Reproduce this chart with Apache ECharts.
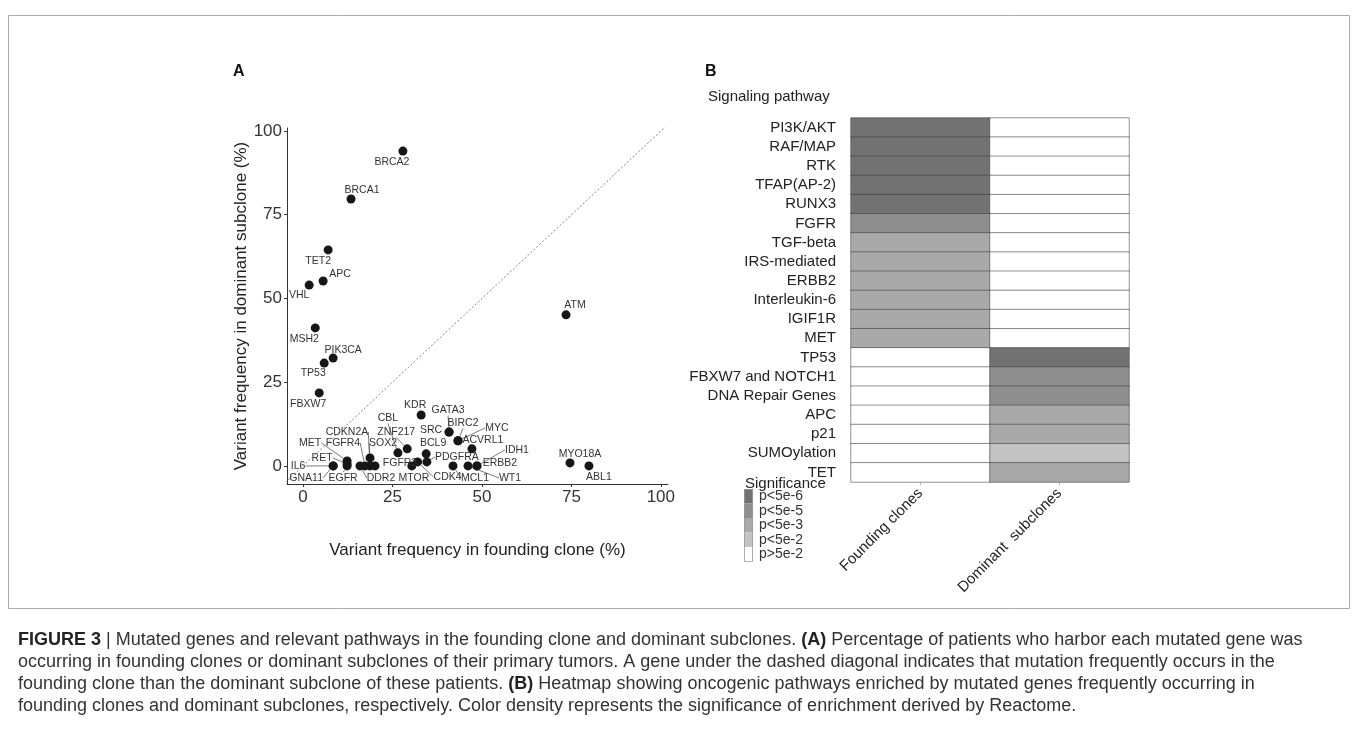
<!DOCTYPE html>
<html>
<head>
<meta charset="utf-8">
<title>Figure 3</title>
<script src="https://cdn.jsdelivr.net/npm/echarts@6/dist/echarts.min.js"></script>
<style>
html,body{margin:0;padding:0;background:#fff;}
#chart{width:1357px;height:744px;}
</style>
</head>
<body>
<div id="chart"></div>
<script>
// panel A: variant frequency (%) per gene
var genes    = ['BRCA2','BRCA1','TET2','APC','VHL','MSH2','PIK3CA','TP53','FBXW7','ATM','MYO18A','ABL1',
                'KDR','GATA3','SRC','BIRC2','MYC','ACVRL1','IDH1','ERBB2','WT1','MCL1','CDK4','MTOR',
                'PDGFRA','BCL9','ZNF217','CBL','CDKN2A','SOX2','FGFR3','DDR2','FGFR4','MET','RET','EGFR','IL6','GNA11'];
var founding = [27.9,13.4,7.0,5.6,1.7,3.4,8.4,5.9,4.5,73.5,74.6,79.9,
                33.0,40.8,40.8,43.3,43.3,47.2,48.6,48.6,46.1,41.9,32.0,30.4,
                34.6,34.4,29.1,26.5,18.7,18.7,20.1,15.9,17.3,12.3,12.3,12.3,8.4,8.4];
var dominant = [94.0,79.7,64.5,55.2,54.0,41.2,32.2,30.7,21.8,45.1,0.9,0,
                15.2,10.1,10.1,7.5,7.5,5.1,0,0,0,0,1.2,0,
                1.2,3.6,5.1,3.9,0,2.4,0,0,0,1.5,0.6,0,0,0];
var tickValues = [0, 25, 50, 75, 100];
var refLine = [-5, 102];   // y = x

// panel B: pathway enrichment level (0 = p>5e-2 ... 4 = p<5e-6)
var pathways = ['PI3K/AKT','RAF/MAP','RTK','TFAP(AP-2)','RUNX3','FGFR','TGF-beta','IRS-mediated','ERBB2',
                'Interleukin-6','IGIF1R','MET','TP53','FBXW7 and NOTCH1','DNA Repair Genes','APC','p21','SUMOylation','TET'];
var groups = ['Founding clones', 'Dominant  subclones'];
var sigFounding = [4,4,4,4,4,3,2,2,2,2,2,2,0,0,0,0,0,0,0];
var sigDominant = [0,0,0,0,0,0,0,0,0,0,0,0,4,3,3,2,2,1,2];
var sigLabels = ['p>5e-2','p<5e-2','p<5e-3','p<5e-5','p<5e-6'];
var sigColors = ['#ffffff','#c3c3c3','#a9a9a9','#8e8e8e','#727272'];

// where each gene label sits (px from its point), ggrepel style
var labelOffset = {
  BRCA2:[-11,11], BRCA1:[11,-9], TET2:[-10,11], APC:[17,-7], VHL:[-10,10], MSH2:[-11,11],
  PIK3CA:[10,-8], TP53:[-11,10], FBXW7:[-11,11], ATM:[9,-10], MYO18A:[10,-9], ABL1:[10,11],
  KDR:[-6,-10], GATA3:[-1,-22], SRC:[-18,-2], BIRC2:[5,-18], MYC:[39,-13], ACVRL1:[11,-9],
  IDH1:[40,-16], ERBB2:[23,-3], WT1:[42,12], MCL1:[22,12], CDK4:[30,15], MTOR:[2,12],
  PDGFRA:[30,-5], BCL9:[7,-11], ZNF217:[-11,-17], CBL:[-10,-35], CDKN2A:[-23,-34], SOX2:[13,-15],
  FGFR3:[25,-3], DDR2:[21,12], FGFR4:[-22,-23], MET:[-37,-18], RET:[-25,-6], EGFR:[-4,12],
  IL6:[-35,0], GNA11:[-27,12]
};
var leaders = ['CBL','ZNF217','CDKN2A','SOX2','FGFR4','MET','RET','EGFR','IL6','GNA11','DDR2',
               'CDK4','MCL1','WT1','IDH1','PDGFRA','BIRC2','MYC','GATA3'];

var FONT = 'Liberation Sans, Arial, sans-serif';

var scatterData = genes.map(function (g, i) {
  return {
    name: g,
    value: [founding[i], dominant[i]],
    labelLine: { show: leaders.indexOf(g) >= 0 }
  };
});

var heatData = [];
pathways.forEach(function (p, i) {
  heatData.push([0, i, sigFounding[i]]);
  heatData.push([1, i, sigDominant[i]]);
});

var caption =
  '{b|FIGURE 3} | Mutated genes and relevant pathways in the founding clone and dominant subclones. {b|(A)} Percentage of patients who harbor each mutated gene was\n' +
  'occurring in founding clones or dominant subclones of their primary tumors. A gene under the dashed diagonal indicates that mutation frequently occurs in the\n' +
  'founding clone than the dominant subclone of these patients. {b|(B)} Heatmap showing oncogenic pathways enriched by mutated genes frequently occurring in\n' +
  'founding clones and dominant subclones, respectively. Color density represents the significance of enrichment derived by Reactome.';

var myChart = echarts.init(document.getElementById('chart'));
var option = {
  backgroundColor: '#fff',
  animation: false,
  textStyle: { fontFamily: FONT },
  grid: [
    { left: 287, right: 689, top: 128, bottom: 260, outerBoundsMode: 'none', containLabel: false },
    { left: 851, right: 228, top: 118, bottom: 262, outerBoundsMode: 'none', containLabel: false }
  ],
  xAxis: [{
    gridIndex: 0, type: 'value', min: -4.5, max: 102,
    name: 'Variant frequency in founding clone (%)', nameLocation: 'middle', nameGap: 58,
    nameTextStyle: { fontSize: 17, color: '#222' },
    axisLine: { show: true, onZero: false, lineStyle: { color: '#333', width: 1 } },
    axisTick: { show: true, length: 3, customValues: tickValues, lineStyle: { color: '#333' } },
    axisLabel: { fontSize: 17, color: '#333', margin: 5, customValues: tickValues },
    splitLine: { show: false }
  }, {
    gridIndex: 1, type: 'category', data: groups,
    axisLine: { show: false },
    axisTick: { show: true, alignWithLabel: true, length: 3, lineStyle: { color: '#bbb' } },
    axisLabel: { fontSize: 15, color: '#222', rotate: 45, margin: 9, interval: 0 },
    splitLine: { show: false }
  }],
  yAxis: [{
    gridIndex: 0, type: 'value', min: -5.4, max: 100.9,
    name: 'Variant frequency in dominant subclone (%)', nameLocation: 'middle', nameGap: 37,
    nameTextStyle: { fontSize: 17, color: '#222' },
    axisLine: { show: true, onZero: false, lineStyle: { color: '#333', width: 1 } },
    axisTick: { show: true, length: 3, customValues: tickValues, lineStyle: { color: '#333' } },
    axisLabel: { fontSize: 17, color: '#333', margin: 5, customValues: tickValues },
    splitLine: { show: false }
  }, {
    gridIndex: 1, type: 'category', data: pathways, inverse: true,
    axisLine: { show: false },
    axisTick: { show: false },
    axisLabel: { fontSize: 15, color: '#222', margin: 15, interval: 0 },
    splitLine: { show: false }
  }],
  visualMap: {
    type: 'piecewise', seriesIndex: 2, dimension: 2,
    orient: 'vertical', left: 744, top: 489, align: 'left',
    itemWidth: 9, itemHeight: 14.5, itemGap: 0, textGap: 6, itemSymbol: 'rect',
    padding: 0, selectedMode: false, hoverLink: false,
    textStyle: { fontSize: 14, color: '#333' },
    pieces: sigLabels.map(function (l, k) { return { value: k, label: l, color: sigColors[k] }; })
  },
  series: [{
    type: 'line', xAxisIndex: 0, yAxisIndex: 0, silent: true, symbol: 'none',
    data: [[refLine[0], refLine[0]], [refLine[1], refLine[1]]],
    lineStyle: { color: '#777', width: 0.9, type: [2, 2] }
  }, {
    type: 'scatter', xAxisIndex: 0, yAxisIndex: 0,
    symbolSize: 9,
    itemStyle: { color: '#161616', opacity: 1 },
    data: scatterData,
    label: { show: true, formatter: '{b}', fontSize: 10.5, color: '#333', opacity: 1, position: 'inside' },
    labelLine: { show: false, lineStyle: { color: '#444', width: 0.7, opacity: 1 }, length2: 0 },
    labelLayout: function (p) {
      var o = labelOffset[genes[p.dataIndex]];
      return {
        x: p.rect.x + p.rect.width / 2 + o[0],
        y: p.rect.y + p.rect.height / 2 + o[1],
        align: 'center', verticalAlign: 'middle'
      };
    }
  }, {
    type: 'heatmap', xAxisIndex: 1, yAxisIndex: 1,
    data: heatData,
    itemStyle: { borderColor: 'rgba(60,60,60,0.55)', borderWidth: 1 }
  }],
  graphic: [
    { type: 'rect', left: 6, top: 13, shape: { width: 1341, height: 593 }, style: { fill: 'none', stroke: '#aaa', lineWidth: 1 } },
    { type: 'text', left: 233, top: 64, style: { text: 'A', fontSize: 16, fontWeight: 'bold', fill: '#111', fontFamily: FONT } },
    { type: 'text', left: 705, top: 64, style: { text: 'B', fontSize: 16, fontWeight: 'bold', fill: '#111', fontFamily: FONT } },
    { type: 'text', left: 708, top: 89, style: { text: 'Signaling pathway', fontSize: 15, fill: '#222', fontFamily: FONT } },
    { type: 'text', left: 745, top: 476, style: { text: 'Significance', fontSize: 15, fill: '#222', fontFamily: FONT } },
    // outline of the significance key
    { type: 'rect', z: 10, shape: { x: 744.5, y: 489.5, width: 8, height: 72 }, style: { fill: 'none', stroke: '#999', lineWidth: 0.8 } },
    { type: 'text', left: 18, top: 629, style: {
        text: caption, fontSize: 18, lineHeight: 22, fill: '#333', fontFamily: FONT,
        rich: { b: { fontWeight: 'bold', fontSize: 18, fill: '#222', fontFamily: FONT } }
    } }
  ]
};
myChart.setOption(option);
</script>
</body>
</html>
